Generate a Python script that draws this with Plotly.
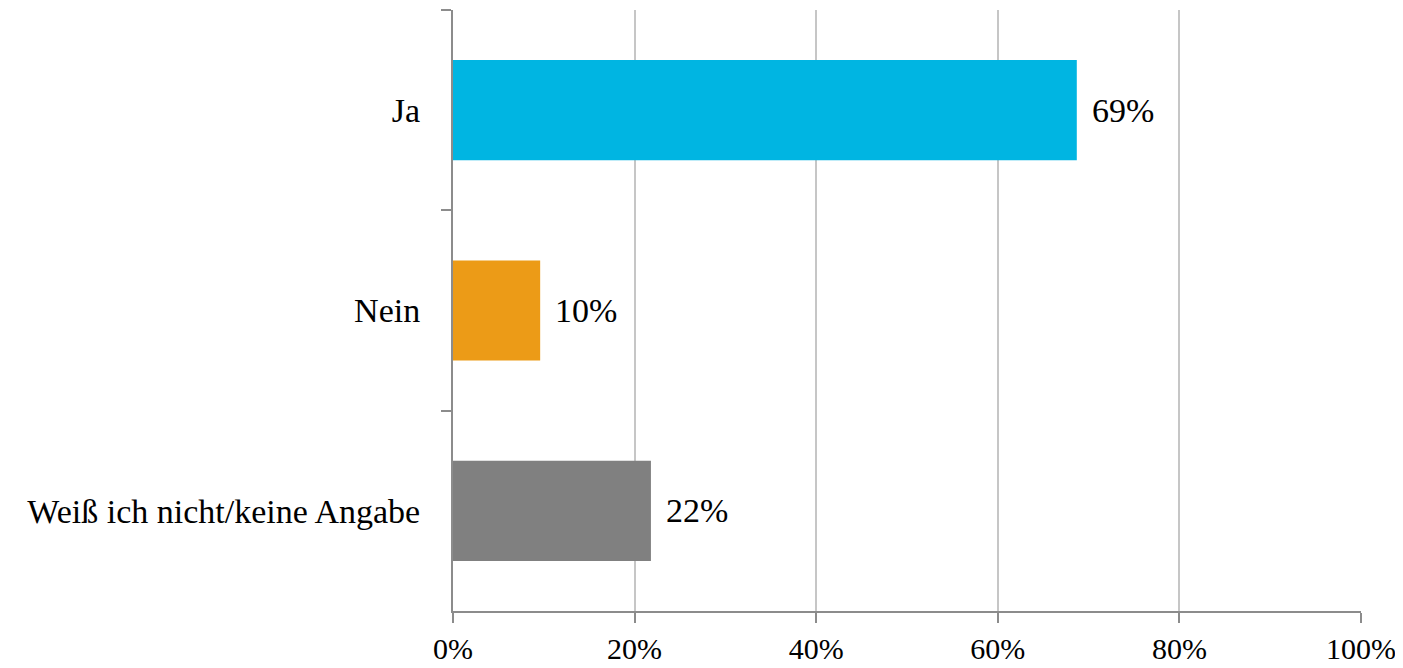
import plotly.graph_objects as go


CATEGORIES = ["Ja", "Nein", "Weiß ich nicht/keine Angabe"]
VALUES = [68.7, 9.6, 21.8]
LABELS = ["69%", "10%", "22%"]
COLORS = ["#00b5e2", "#ec9b17", "#808080"]
X_TICKS = [0, 20, 40, 60, 80, 100]
X_TICK_LABELS = ["0%", "20%", "40%", "60%", "80%", "100%"]

FONT = "Liberation Serif"
FONT_SIZE = 34


fig = go.Figure()


fig.add_trace(
    go.Bar(
        x=VALUES,
        y=CATEGORIES,
        orientation="h",
        marker=dict(
            color=COLORS,
            line_width=0,
        ),
        hoverinfo="skip",
    )
)


# value labels to the right of each bar
for cat, val, lab in zip(CATEGORIES, VALUES, LABELS):

    fig.add_annotation(
        x=val,
        y=cat,
        text=lab,
        showarrow=False,
        xanchor="left",
        xshift=13,
        font=dict(
            family=FONT,
            size=FONT_SIZE,
            color="#000000",
        ),
    )


# the page body adds an 8px offset, margins compensate for it
fig.update_layout(
    width=1403,
    height=668,
    margin=dict(l=445, r=50, t=2, b=65),
    plot_bgcolor="white",
    paper_bgcolor="white",
    bargap=0.5,
    showlegend=False,
    font=dict(
        family=FONT,
        size=FONT_SIZE,
        color="#000000",
    ),
    xaxis=dict(
        range=[0, 100],
        tickvals=X_TICKS,
        ticktext=X_TICK_LABELS,
        tickfont=dict(size=30),
        showgrid=True,
        gridcolor="#c6c6c6",
        gridwidth=1.5,
        zeroline=False,
        showline=True,
        linecolor="#8c8c8c",
        linewidth=1.5,
        ticks="outside",
        ticklen=10,
        tickcolor="#8c8c8c",
        tickwidth=1.5,
        ticklabelstandoff=0,
    ),
    yaxis=dict(
        autorange="reversed",
        showgrid=False,
        zeroline=False,
        showline=True,
        linecolor="#8c8c8c",
        linewidth=2,
        ticks="outside",
        tickson="boundaries",
        ticklen=10,
        tickcolor="#8c8c8c",
        tickwidth=1.5,
        ticklabelstandoff=24,
    ),
)


fig.write_html("out.html")
